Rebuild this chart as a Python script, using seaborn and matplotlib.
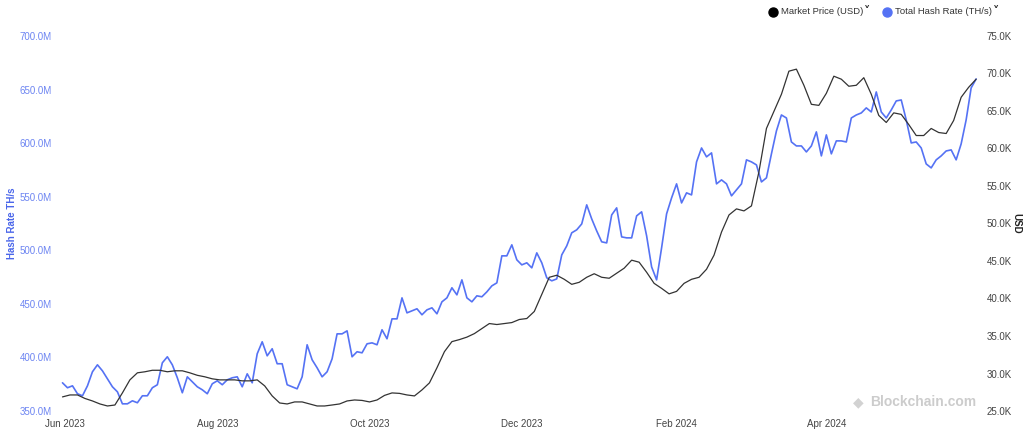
import numpy as np
import pandas as pd
import matplotlib
matplotlib.use("Agg")
import matplotlib.pyplot as plt
import matplotlib.dates as mdates
from matplotlib.lines import Line2D
from matplotlib.ticker import FuncFormatter, MultipleLocator
import seaborn as sns

# total hash rate (million TH/s), every 2 days from 2023-05-31
hash_rate = [
    376.3, 371.7, 373.5, 366.1, 364.2, 373.5, 386.6, 393.1, 387.5, 380.1,
    372.6, 367.9, 356.7, 356.7, 359.5, 357.7, 364.2, 364.2, 371.7, 374.5,
    395.0, 400.6, 393.1, 381.0, 367.0, 381.9, 377.3, 372.6, 369.8, 366.1,
    375.4, 378.2, 374.5, 379.1, 381.0, 381.9, 372.6, 384.7, 376.3, 403.4,
    414.6, 401.5, 408.1, 394.1, 394.1, 374.5, 372.6, 370.7, 381.9, 411.8,
    397.8, 390.3, 381.9, 386.6, 398.7, 422.0, 422.0, 424.8, 400.6, 405.3,
    404.3, 412.7, 413.6, 411.8, 425.8, 417.4, 436.0, 436.0, 455.6, 441.6,
    443.5, 445.4, 439.8, 444.4, 446.3, 440.7, 451.9, 455.6, 465.0, 458.4,
    472.4, 455.6, 451.9, 457.5, 456.6, 461.2, 466.8, 469.6, 494.8, 494.8,
    505.1, 491.1, 486.4, 488.3, 483.6, 497.6, 488.3, 474.3, 471.5, 473.3,
    495.7, 504.1, 516.3, 519.1, 524.6, 542.4, 529.3, 518.1, 507.9, 506.9,
    533.0, 539.6, 512.5, 511.6, 511.6, 532.1, 535.9, 513.5, 484.5, 472.4,
    502.3, 534.0, 548.9, 562.0, 544.2, 553.6, 551.7, 582.5, 595.5, 587.2,
    590.9, 562.0, 565.7, 562.0, 550.8, 556.4, 562.0, 584.4, 582.5, 579.7,
    563.8, 567.6, 590.0, 611.4, 626.3, 623.5, 601.1, 597.4, 597.4, 591.8,
    597.4, 610.5, 588.1, 607.7, 590.0, 602.1, 602.1, 601.1, 623.5, 626.3,
    628.2, 632.9, 629.1, 647.8, 629.1, 623.5, 631.0, 639.4, 640.3, 621.7,
    600.2, 601.1, 595.5, 580.6, 576.9, 584.4, 588.1, 592.7, 593.7, 584.4,
    599.3, 621.7, 651.5, 659.9,
]

# market price (thousand USD), every 3 days from 2023-05-31
market_price = [
    26.88, 27.14, 27.14, 26.67, 26.34, 25.94, 25.67, 25.80, 27.41, 29.15,
    30.09, 30.23, 30.43, 30.43, 30.23, 30.36, 30.36, 30.09, 29.76, 29.56,
    29.29, 29.15, 29.15, 29.15, 29.02, 29.02, 29.15, 28.35, 27.01, 26.07,
    25.94, 26.21, 26.21, 25.94, 25.67, 25.67, 25.80, 25.94, 26.34, 26.47,
    26.41, 26.21, 26.47, 27.08, 27.41, 27.35, 27.14, 27.01, 27.81, 28.75,
    30.76, 32.91, 34.25, 34.52, 34.85, 35.32, 35.99, 36.66, 36.53, 36.66,
    36.79, 37.20, 37.33, 38.27, 40.55, 42.83, 43.10, 42.56, 41.89, 42.16,
    42.83, 43.30, 42.83, 42.70, 43.37, 44.04, 45.11, 44.84, 43.50, 42.02,
    41.35, 40.62, 40.95, 42.02, 42.56, 42.83, 43.90, 45.78, 48.86, 51.14,
    51.95, 51.68, 52.35, 56.91, 62.67, 64.95, 67.23, 70.31, 70.58, 68.43,
    65.89, 65.75, 67.36, 69.64, 69.24, 68.30, 68.43, 69.44, 67.23, 64.41,
    63.47, 64.75, 64.55, 63.20, 61.73, 61.73, 62.67, 62.13, 62.00, 63.74,
    66.83, 68.16, 69.24,
]

hash_dates = pd.date_range("2023-05-31", periods=len(hash_rate), freq="2D")
price_dates = pd.date_range("2023-05-31", periods=len(market_price), freq="3D")

series_names = ["Market Price (USD)", "Total Hash Rate (TH/s)"]

BLUE = "#5572f4"
BLUE_TXT = "#6d85f2"
DARK = "#333333"

sns.set_theme(style="white")
plt.rcParams["font.family"] = ["Liberation Sans", "DejaVu Sans"]

fig = plt.figure(figsize=(10.24, 4.32), dpi=100)
ax = fig.add_axes([60 / 1024, 21 / 432, 918 / 1024, 375 / 432])
ax2 = ax.twinx()

sns.lineplot(x=hash_dates, y=hash_rate, ax=ax, color=BLUE, linewidth=1.2)
sns.lineplot(x=price_dates, y=market_price, ax=ax2, color=DARK, linewidth=0.9)

ax.set_xlim(pd.Timestamp("2023-05-30"), pd.Timestamp("2024-05-31 18:00"))
ax.set_ylim(350, 700)
ax2.set_ylim(25, 75)

ax.yaxis.set_major_locator(MultipleLocator(50))
ax2.yaxis.set_major_locator(MultipleLocator(5))
ax.yaxis.set_major_formatter(FuncFormatter(lambda v, p: f"{v:.1f}M"))
ax2.yaxis.set_major_formatter(FuncFormatter(lambda v, p: f"{v:.1f}K"))
ax.xaxis.set_major_locator(mdates.MonthLocator(bymonth=[2, 4, 6, 8, 10, 12]))
ax.xaxis.set_major_formatter(mdates.DateFormatter("%b %Y"))

ax.tick_params(axis="y", length=0, pad=6, labelsize=7, labelcolor=BLUE_TXT)
ax.tick_params(axis="x", length=0, pad=6, labelsize=7, labelcolor="#444444")
ax2.tick_params(axis="y", length=0, pad=6, labelsize=7, labelcolor="#444444")

for a in (ax, ax2):
    for s in a.spines.values():
        s.set_visible(False)
    a.grid(False)

ax.set_xlabel("")
ax.set_ylabel("Hash Rate TH/s", color="#4a66ea", fontsize=7, fontweight="bold",
              va="center", ha="center")
ax.yaxis.set_label_coords(-0.0525, 0.5)
ax2.set_ylabel("USD", color="#222222", fontsize=7, fontweight="bold",
               rotation=270, va="center", ha="center")
ax2.yaxis.set_label_coords(1.042, 0.5)

# legend drawn by hand: dot, name, dropdown chevron
ly = 1 - 12 / 432
for name, col, x0 in zip(series_names, ["black", BLUE], [773, 887]):
    fig.add_artist(Line2D([x0 / 1024], [ly], marker="o", ls="", color=col,
                          markersize=6.5, transform=fig.transFigure))
    t = fig.text((x0 + 8) / 1024, ly, name, fontsize=6.8, color="#333333",
                 ha="left", va="center")
    fig.canvas.draw()
    bb = t.get_window_extent()
    fig.text(bb.x1 / 1024 + 1 / 1024, ly + 1 / 432, "\u02c5", fontsize=9,
             fontweight="bold", color="#222222", ha="left", va="center",
             family="DejaVu Sans")

# watermark
fig.text(870 / 1024, 1 - 402 / 432, "Blockchain.com", color="#cccccc",
         fontsize=10, fontweight="bold", ha="left", va="center")
fig.text(858 / 1024, 1 - 402 / 432, "\u25c6", color="#d2d2d2",
         fontsize=10, ha="center", va="center", family="DejaVu Sans")

fig.savefig("out.png", dpi=100)
